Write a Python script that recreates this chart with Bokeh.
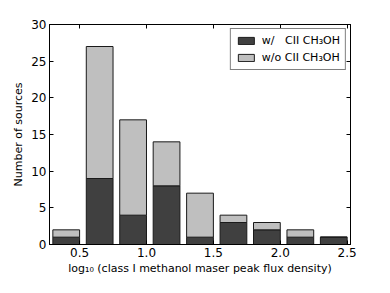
from bokeh.plotting import figure
from bokeh.models import ColumnDataSource, LinearAxis, Range1d, FixedTicker, NumeralTickFormatter
from bokeh.embed import file_html
from bokeh.resources import INLINE

# data
bin_centers = [0.4, 0.65, 0.9, 1.15, 1.4, 1.65, 1.9, 2.15, 2.4]
with_cii = [1, 9, 4, 8, 1, 3, 2, 1, 1]
without_cii = [1, 18, 13, 6, 6, 1, 1, 1, 0]
x_ticks = [0.5, 1.0, 1.5, 2.0, 2.5]
y_ticks = [0, 5, 10, 15, 20, 25, 30]

FONT = "DejaVu Sans"
src = ColumnDataSource(dict(x=bin_centers, w=with_cii, wo=without_cii))

p = figure(width=374, height=277, output_backend="svg", toolbar_location=None,
           x_range=Range1d(0.275, 2.525), y_range=Range1d(0, 30),
           min_border_left=49, min_border_right=24, min_border_top=24, min_border_bottom=30)

p.vbar_stack(["w", "wo"], x="x", width=0.2, source=src,
             fill_color=["#404040", "#bfbfbf"], line_color="#1a1a1a", line_width=1,
             legend_label=["w/\u00a0\u00a0\u00a0CII CH\u2083OH", "w/o CII CH\u2083OH"])

p.xgrid.visible = False
p.ygrid.visible = False
p.outline_line_color = "black"
p.outline_line_width = 1
p.background_fill_color = "white"
p.border_fill_color = "white"

for ax in (p.xaxis[0], p.yaxis[0]):
    ax.major_tick_in = 4
    ax.major_tick_out = 0
    ax.minor_tick_in = 0
    ax.minor_tick_out = 0
    ax.axis_line_color = "black"
    ax.major_tick_line_color = "black"
    ax.major_label_text_font = FONT
    ax.major_label_text_font_size = "12px"
    ax.major_label_text_color = "black"
    ax.axis_label_text_font = FONT
    ax.axis_label_text_font_size = "11px"
    ax.axis_label_text_font_style = "normal"
    ax.axis_label_text_color = "black"

p.xaxis[0].ticker = FixedTicker(ticks=x_ticks)
p.xaxis[0].formatter = NumeralTickFormatter(format="0.0")
p.yaxis[0].ticker = FixedTicker(ticks=y_ticks)
p.xaxis[0].axis_label = "log\u2081\u2080 (class I methanol maser peak flux density)"
p.yaxis[0].axis_label = "Number of sources"
p.xaxis[0].major_label_standoff = 3
p.xaxis[0].axis_label_standoff = 2
p.yaxis[0].major_label_standoff = 3
p.yaxis[0].axis_label_standoff = 3

top = LinearAxis(ticker=FixedTicker(ticks=x_ticks))
right = LinearAxis(ticker=FixedTicker(ticks=y_ticks))
for ax in (top, right):
    ax.major_tick_in = 4
    ax.major_tick_out = 0
    ax.minor_tick_in = 0
    ax.minor_tick_out = 0
    ax.major_label_text_font_size = "11px"
    ax.major_label_text_color = None
    ax.major_label_standoff = 0
    ax.axis_line_color = "black"
p.add_layout(top, "above")
p.add_layout(right, "right")

lg = p.legend[0]
lg.location = "top_right"
lg.label_text_font = FONT
lg.label_text_font_size = "11px"
lg.label_text_color = "black"
lg.border_line_color = "black"
lg.border_line_width = 1
lg.margin = 4
lg.padding = 5
lg.spacing = 4
lg.glyph_width = 20
lg.glyph_height = 9
lg.label_height = 12
lg.label_standoff = 6
lg.background_fill_alpha = 1

open("out.html", "w").write(file_html(p, INLINE))
